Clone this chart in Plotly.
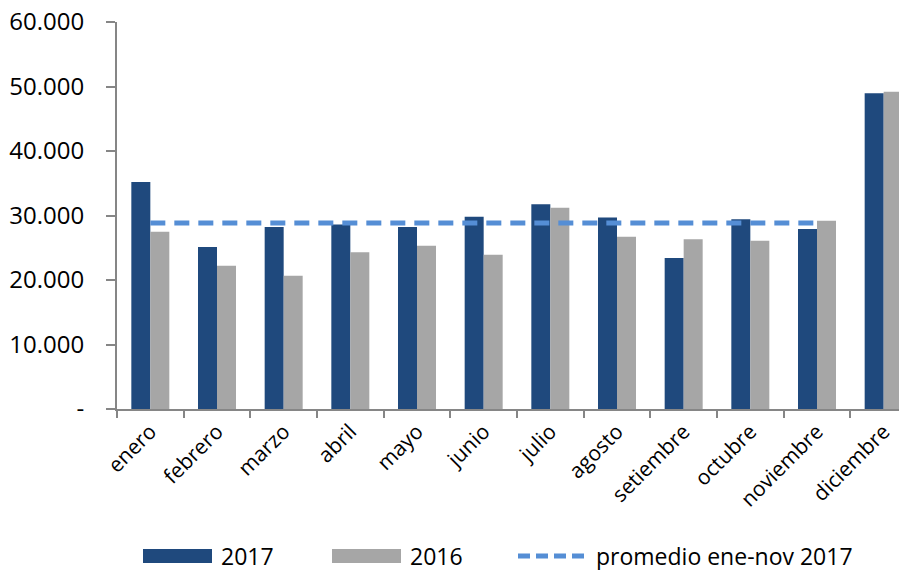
import plotly.graph_objects as go

months = ["enero", "febrero", "marzo", "abril", "mayo", "junio", "julio",
          "agosto", "setiembre", "octubre", "noviembre", "diciembre"]
v2017 = [35200, 25100, 28200, 28600, 28200, 29800, 31750, 29700, 23400, 29400, 27900, 48950]
v2016 = [27500, 22200, 20650, 24300, 25300, 23900, 31200, 26700, 26300, 26100, 29200, 49200]
avg_months = months[:11]
avg_values = [28850] * 11

y_tickvals = [0, 10000, 20000, 30000, 40000, 50000, 60000]
y_ticktext = ["-", "10.000", "20.000", "30.000", "40.000", "50.000", "60.000"]

C2017 = "#1F497D"
C2016 = "#A6A6A6"
CAVG = "#558ED5"
AXIS = "#868686"
FONT = "Open Sans"

fig = go.Figure()
fig.add_trace(go.Bar(x=months, y=v2017, name="2017", marker=dict(color=C2017, line=dict(width=0))))
fig.add_trace(go.Bar(x=months, y=v2016, name="2016", marker=dict(color=C2016, line=dict(width=0))))
fig.add_trace(go.Scatter(x=avg_months, y=avg_values, name="promedio ene-nov 2017", mode="lines",
                         line=dict(color=CAVG, width=5, dash="15px,9px")))

# page body has an 8px margin; figure is sized/offset to compensate
OFF = 8
W, H = 907 - OFF, 570 - OFF
PL, PT, PW, PH = 117 - OFF, 22 - OFF, 790, 387

def px(x):
    return (x - OFF - PL) / PW
def py(y):
    return (PT + PH - (y - OFF)) / PH

# custom legend (paper coords), positions given in screen pixels
legend_items = [("2017", C2017, "bar"), ("2016", C2016, "bar"), ("promedio ene-nov 2017", CAVG, "line")]
sym_x0 = [143, 332, 518]
yc = 556
for (label, col, kind), x0 in zip(legend_items, sym_x0):
    if kind == "bar":
        fig.add_shape(type="rect", xref="paper", yref="paper",
                      x0=px(x0), x1=px(x0 + 69), y0=py(yc + 7), y1=py(yc - 7),
                      fillcolor=col, line=dict(width=0))
    else:
        fig.add_shape(type="line", xref="paper", yref="paper",
                      x0=px(x0), x1=px(x0 + 67), y0=py(yc), y1=py(yc),
                      line=dict(color=col, width=5, dash="12px,6px"))
    fig.add_annotation(xref="paper", yref="paper", x=px(x0 + 76), y=py(yc),
                       text=label, showarrow=False, xanchor="left", yanchor="middle",
                       font=dict(family=FONT, size=23, color="#000000"))

fig.update_layout(
    width=W, height=H,
    margin=dict(l=PL, r=W - PL - PW, t=PT, b=H - PT - PH, autoexpand=False),
    plot_bgcolor="white", paper_bgcolor="white",
    barmode="group", bargap=0.43, bargroupgap=0,
    showlegend=False,
    font=dict(family=FONT, color="#000000"),
)
fig.update_xaxes(
    range=[-0.5, 11.35], automargin=False, showgrid=False, showline=True, linecolor=AXIS, linewidth=2,
    ticks="outside", tickson="boundaries", ticklen=7, tickcolor=AXIS, tickwidth=2,
    tickangle=-45, tickfont=dict(family=FONT, size=21, color="#000000"),
)
fig.update_yaxes(
    range=[0, 60000], automargin=False, showgrid=False, zeroline=False, showline=True, linecolor=AXIS, linewidth=2,
    ticks="outside", ticklen=9, tickcolor=AXIS, tickwidth=2,
    tickvals=y_tickvals, ticktext=y_ticktext, ticklabelstandoff=17, ticklabeloverflow="allow",
    tickfont=dict(family=FONT, size=24, color="#000000"),
)

fig.write_html("out.html")
